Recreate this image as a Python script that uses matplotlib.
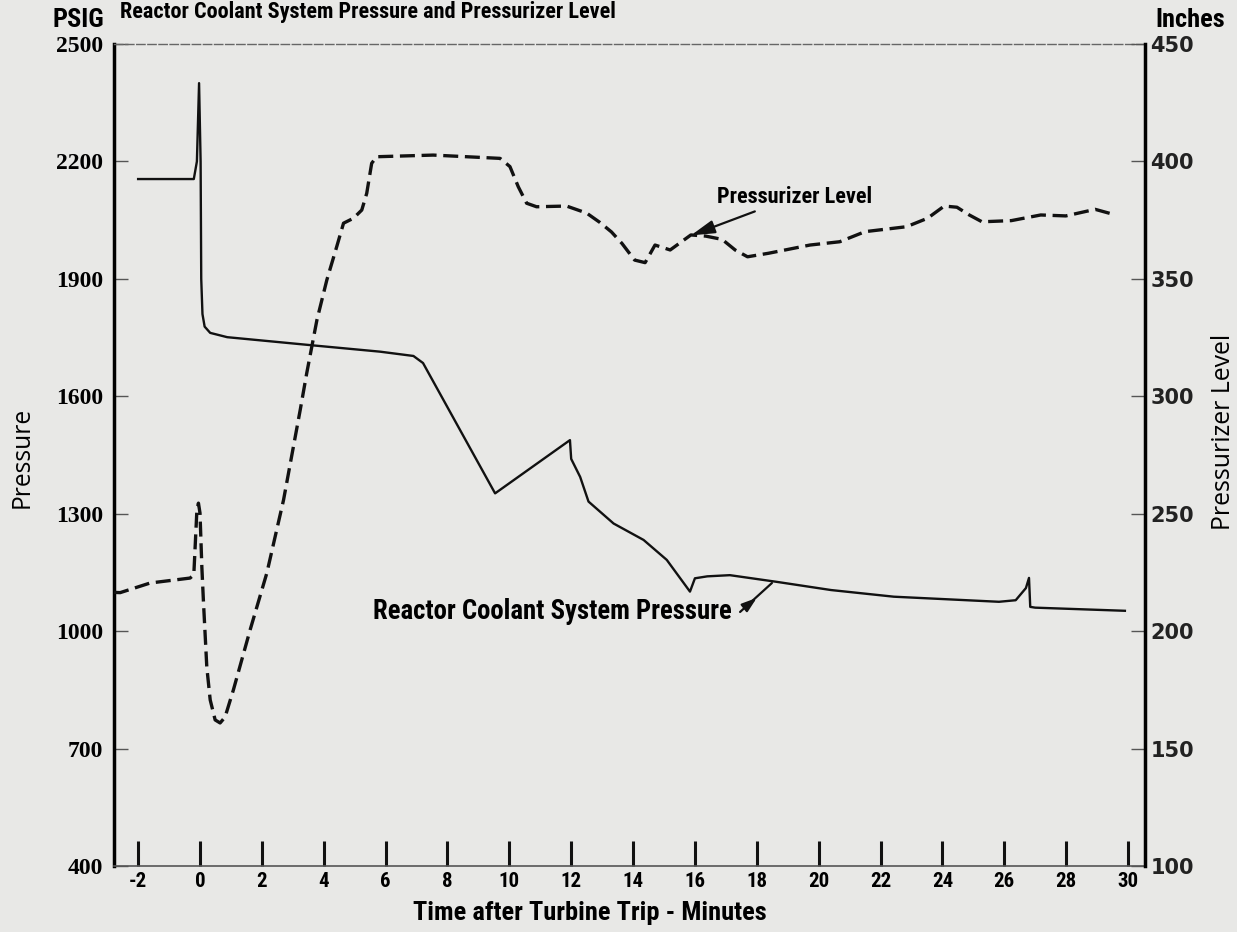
import matplotlib
matplotlib.use("Agg")
import matplotlib.pyplot as plt
from matplotlib import font_manager

# Reactor coolant system pressure (psig) vs. time after turbine trip (min)
press_t = [-2.0, -0.2, -0.1, -0.03, 0.02, 0.04, 0.08, 0.15, 0.33, 0.88, 3.66,
           5.82, 6.9, 7.21, 9.54, 11.96, 12.0, 12.29, 12.56, 13.37, 14.34,
           15.09, 15.84, 16.0, 16.4, 17.13, 18.64, 20.4, 22.43, 25.83, 26.37,
           26.7, 26.8, 26.84, 27.0, 29.9]
press_psig = [2155, 2155, 2200, 2400, 2200, 1900, 1810, 1778, 1762, 1751, 1730,
              1714, 1703, 1685, 1352, 1488, 1440, 1394, 1331, 1275, 1233,
              1182, 1101, 1135, 1140, 1143, 1126, 1105, 1088, 1075, 1079,
              1110, 1136, 1062, 1060, 1052]

# Pressurizer level (inches)
level_t = [-2.78, -2.58, -1.61, -0.32, -0.2, -0.1, -0.05, 0.0, 0.06, 0.11,
           0.22, 0.33, 0.49, 0.65, 0.81, 1.08, 1.62, 2.16, 2.7, 3.24, 3.45,
           3.78, 4.1, 4.42, 4.64, 4.96, 5.23, 5.39, 5.55, 5.71, 7.54, 9.7,
           10.02, 10.29, 10.56, 10.88, 11.85, 12.5, 12.93, 13.3, 13.64, 14.05,
           14.39, 14.71, 15.2, 15.87, 16.35, 16.88, 17.3, 17.7, 18.38, 19.72,
           20.68, 21.5, 22.84, 23.52, 24.06, 24.47, 24.87, 25.28, 26.23,
           27.18, 27.99, 28.94, 29.6]
level_in = [216.5, 216.4, 220.5, 222.6, 224, 251.6, 254.5, 250.3, 227.3, 213,
            184.7, 170.7, 162.2, 160.9, 163.4, 175, 200.5, 224.7, 255.8, 294.2,
            309.8, 332.5, 349.5, 363.7, 373.7, 375.8, 379.3, 386.4, 399.2, 402,
            402.7, 401.3, 397.8, 389.2, 382.2, 380.7, 381, 378, 374, 370, 365.1,
            358, 356.9, 364.4, 362.3, 368.7, 368.2, 366.8, 362.3, 359.4, 360.9,
            364.4, 365.8, 370.1, 372.2, 375.8, 381, 380.5, 377.2, 374.3, 374.8,
            377.2, 376.8, 379.6, 377.2]

x_ticks = list(range(-2, 31, 2))
left_ticks = [400, 700, 1000, 1300, 1600, 1900, 2200, 2500]
right_ticks = [100, 150, 200, 250, 300, 350, 400, 450]

names = {f.name for f in font_manager.fontManager.ttflist}
cond = "DejaVu Sans"
for cand in ["Liberation Sans Narrow", "Roboto Condensed", "Open Sans Condensed"]:
    if cand in names:
        cond = cand
        break
serif = "Liberation Serif"
bg = "#e8e8e6"

fig = plt.figure(figsize=(12.37, 9.32), dpi=100, facecolor=bg)
ax = fig.add_axes([114 / 1237, 1 - 866 / 932, (1145 - 114) / 1237, (866 - 44) / 932])
ax.set_facecolor(bg)
ax2 = ax.twinx()

ax.plot(press_t, press_psig, color="#111111", lw=1.7, solid_joinstyle="round")
ax2.plot(level_t, level_in, color="#111111", lw=2.4, linestyle=(0, (4.5, 2.0)))

ax.set_xlim(-2.78, 30.55)
ax.set_ylim(400, 2500)
ax2.set_ylim(100, 450)

bold_c = dict(family=cond, fontweight="bold", fontstretch="condensed")

ax.set_xticks(x_ticks)
ax.set_xticklabels([str(v) for v in x_ticks], fontsize=15, **bold_c)
ax.tick_params(axis="x", direction="in", length=18, width=2.2, color="#111111", pad=4)
ax.set_yticks(left_ticks)
ax.set_yticklabels([str(v) for v in left_ticks], family=serif, fontweight="bold", fontsize=17)
ax.tick_params(axis="y", direction="in", length=10, width=1, color="#555555", pad=8)
ax2.set_yticks(right_ticks)
ax2.set_yticklabels([str(v) for v in right_ticks], family="DejaVu Sans", fontweight="bold",
                    fontsize=15, color="#222222")
ax2.tick_params(axis="y", direction="in", length=10, width=1, color="#555555", pad=4)

for a in (ax, ax2):
    for s in a.spines.values():
        s.set_visible(False)
ax.spines["left"].set_visible(True)
ax.spines["left"].set_linewidth(2.5)
ax.spines["bottom"].set_visible(True)
ax.spines["bottom"].set_linewidth(1.2)
ax.spines["bottom"].set_color("#555555")
ax.spines["top"].set_visible(True)
ax.spines["top"].set_linewidth(1.0)
ax.spines["top"].set_color("#666666")
ax.spines["top"].set_linestyle((0, (6, 2)))
ax2.spines["right"].set_visible(True)
ax2.spines["right"].set_linewidth(2.5)

ax.set_xlabel("Time after Turbine Trip - Minutes", fontsize=19, **bold_c)
ax.xaxis.label.set_va("center")
ax.xaxis.set_label_coords((590 - 114) / 1031, -(913 - 866) / 822)

t_pres = fig.text(22 / 1237, 1 - 457 / 932, "Pressure", rotation=90, ha="center",
                  va="center", family="Open Sans", fontsize=15)
t_lev = fig.text(1224 / 1237, 1 - 432 / 932, "Pressurizer Level", rotation=90,
                 ha="center", va="center", family="Open Sans", fontsize=15)
fig.text(78 / 1237, 1 - 20 / 932, "PSIG", ha="center", va="center", fontsize=19, **bold_c)
fig.text(1190 / 1237, 1 - 20 / 932, "Inches", ha="center", va="center", fontsize=19,
         **bold_c)
t_title = fig.text(120 / 1237, 1 - 1 / 932,
                   "Reactor Coolant System Pressure and Pressurizer Level",
                   ha="left", va="top", fontsize=14, **bold_c)

t_ann1 = ax2.annotate("Pressurizer Level", xy=(15.87, 368.5), xytext=(16.7, 385),
                      ha="left", va="center", fontsize=16, **bold_c,
                      arrowprops=dict(arrowstyle="-|>,head_length=0.9,head_width=0.25",
                                      color="#111111", lw=1.6, shrinkA=2, shrinkB=0))
t_ann2 = ax.text(17.2, 1049, "Reactor Coolant System Pressure", ha="right", va="center",
                 fontsize=16, **bold_c)
ax.annotate("", xy=(18.49, 1123), xytext=(17.46, 1049),
            arrowprops=dict(arrowstyle="-", color="#111111", lw=1.6, shrinkA=0, shrinkB=0))
ax.annotate("", xy=(18.0, 1085), xytext=(17.7, 1066),
            arrowprops=dict(arrowstyle="-|>,head_length=0.9,head_width=0.3",
                            color="#111111", lw=1.6, shrinkA=0, shrinkB=0))

# scale the texts so their lengths match the reference whatever font was found
renderer = fig.canvas.get_renderer()
targets = [(t_pres, 101), (t_lev, 197), (t_title, 500), (t_ann1, 178), (t_ann2, 359)]
for t, target in targets:
    bb = t.get_window_extent(renderer)
    length = max(bb.width, bb.height)
    t.set_fontsize(t.get_fontsize() * target / length)

fig.savefig("out.png", dpi=100, facecolor=bg)
